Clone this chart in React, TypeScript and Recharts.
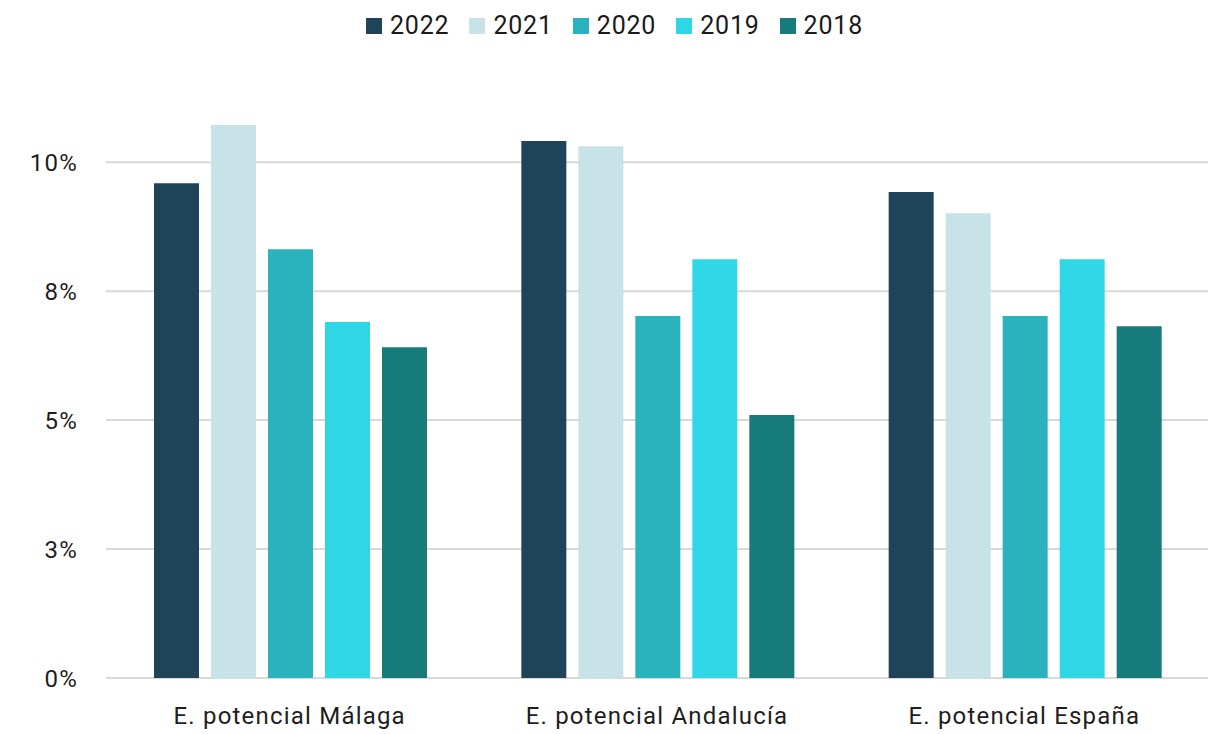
import { Bar, BarChart, CartesianGrid, Legend, XAxis, YAxis } from "recharts";

const categories = [
  "E. potencial Málaga",
  "E. potencial Andalucía",
  "E. potencial España",
];

const years = ["2022", "2021", "2020", "2019", "2018"];

const values2022 = [9.59, 10.41, 9.42];
const values2021 = [10.72, 10.31, 9.01];
const values2020 = [8.31, 7.02, 7.02];
const values2019 = [6.9, 8.12, 8.12];
const values2018 = [6.41, 5.1, 6.82];

const yTicks = [0, 2.5, 5, 7.5, 10];
const yTickLabels = ["0%", "3%", "5%", "8%", "10%"];

const colors: Record<string, string> = {
  "2022": "#1f4459",
  "2021": "#c8e3e8",
  "2020": "#2ab2bd",
  "2019": "#2fd7e6",
  "2018": "#177a7b",
};

const seriesByYear: Record<string, number[]> = {
  "2022": values2022,
  "2021": values2021,
  "2020": values2020,
  "2019": values2019,
  "2018": values2018,
};

const data = categories.map((name, i) => {
  const row: Record<string, string | number> = { name };
  years.forEach((y) => {
    row[y] = seriesByYear[y][i];
  });
  return row;
});

const font = "Roboto, 'Noto Sans', sans-serif";
const tick = {
  fill: "#1e1e1e",
  fontSize: 24,
  fontFamily: font,
  letterSpacing: 1.2,
};

function TopLegend() {
  return (
    <div
      style={{
        display: "flex",
        justifyContent: "center",
        alignItems: "center",
        gap: 20,
        paddingLeft: 12,
        fontFamily: font,
        fontSize: 25,
        letterSpacing: 0.8,
        color: "#1a1a1a",
      }}
    >
      {years.map((y) => (
        <div key={y} style={{ display: "flex", alignItems: "center", gap: 8 }}>
          <span
            style={{
              width: 16,
              height: 16,
              backgroundColor: colors[y],
              display: "inline-block",
            }}
          />
          <span>{y}</span>
        </div>
      ))}
    </div>
  );
}

export default function App() {
  return (
    <div style={{ position: "absolute", left: 0, top: 0, background: "#fff" }}>
      <BarChart
        width={1217}
        height={734}
        data={data}
        margin={{ top: 19, right: 9, left: 0, bottom: 0 }}
        barCategoryGap={48}
        barGap={12}
      >
        <CartesianGrid
          vertical={false}
          horizontalValues={yTicks}
          stroke="#d9d9d9"
          strokeWidth={2}
        />
        <XAxis
          dataKey="name"
          axisLine={false}
          tickLine={false}
          tick={tick}
          tickMargin={23}
          height={56}
          interval={0}
        />
        <YAxis
          domain={[0, 12]}
          ticks={yTicks}
          axisLine={false}
          tickLine={false}
          tick={tick}
          tickMargin={22}
          width={106}
          tickFormatter={(v: number) => yTickLabels[yTicks.indexOf(v)] ?? ""}
        />
        <Legend
          verticalAlign="top"
          height={40}
          wrapperStyle={{ top: 11, left: 0, width: 1217 }}
          content={() => <TopLegend />}
        />
        {years.map((y) => (
          <Bar key={y} dataKey={y} fill={colors[y]} isAnimationActive={false} />
        ))}
      </BarChart>
    </div>
  );
}
